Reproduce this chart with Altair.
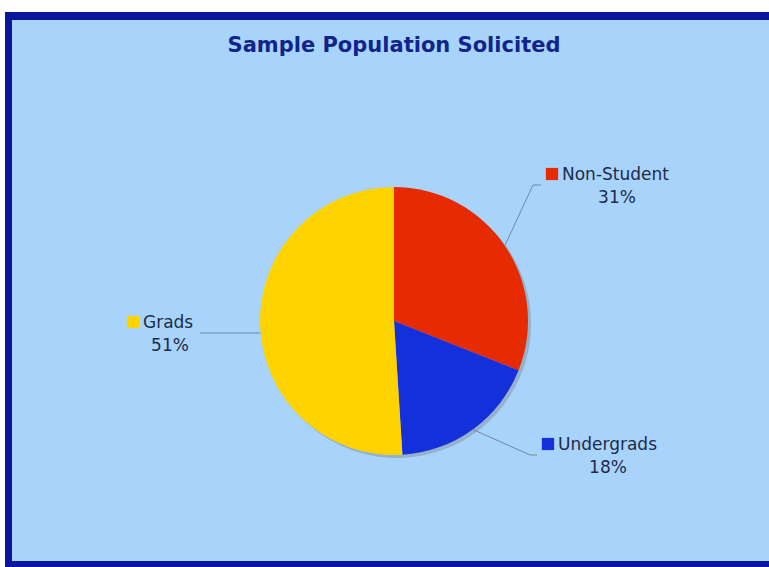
import math
import altair as alt
import pandas as pd

# Survey breakdown
categories = ["Non-Student", "Undergrads", "Grads"]
shares = [31, 18, 51]
slice_colors = ["#e62a02", "#1330da", "#fed300"]

W, H = 769, 567
CX, CY, R = 394, 321, 134

BG = "#a8d4fc"
FRAME = "#0a179c"
TITLE_COLOR = "#10248c"
TEXT_COLOR = "#1d2b48"
LEADER = "#6f89a6"

# Label layout: where each leader line ends, and which side the label sits on.
# A leader with no elbow runs flat at its end height and starts where it meets the rim.
label_anchor = {
    "Non-Student": {"elbow": (533, 185), "end": (541, 185), "side": "right"},
    "Undergrads": {"elbow": (530, 455), "end": (537, 455), "side": "right"},
    "Grads": {"elbow": None, "end": (200, 333), "side": "left"},
}

pie_df = pd.DataFrame({"category": categories, "share": shares, "rank": range(len(categories))})

total = sum(shares)
line_rows, label_rows = [], []
cum = 0
for cat, v in zip(categories, shares):
    mid = (cum + v / 2) / total * 2 * math.pi
    cum += v
    lay = label_anchor[cat]
    ex, ey = lay["end"]
    if lay["elbow"] is not None:
        # start on the rim at the slice's middle angle
        sx, sy = CX + R * math.sin(mid), CY - R * math.cos(mid)
        pts = [(sx, sy), lay["elbow"], (ex, ey)]
    else:
        side = 1 if math.sin(mid) >= 0 else -1
        sx = CX + side * math.sqrt(max(R * R - (ey - CY) ** 2, 0))
        pts = [(sx, ey), (ex, ey)]
    for i, (px, py) in enumerate(pts):
        line_rows.append({"category": cat, "i": i, "px": px, "py": py})
    if lay["side"] == "right":
        sq_x, sq_y = ex + 11, ey - 11
        name_x = sq_x + 10
        pct_x = name_x + (55 if cat == "Non-Student" else 50)
    else:
        sq_x, sq_y = ex - 67, ey - 11
        name_x = sq_x + 10
        pct_x = sq_x + 37
    label_rows.append({
        "category": cat, "pct": f"{v}%",
        "sq_x": sq_x, "sq_y": sq_y,
        "name_x": name_x, "name_y": sq_y + 1,
        "pct_x": pct_x, "pct_y": sq_y + 24,
    })

lines_df = pd.DataFrame(line_rows)
labels_df = pd.DataFrame(label_rows)
one = pd.DataFrame({"k": [0]})

color_scale = alt.Scale(domain=categories, range=slice_colors)

# Frame: dark outer band with light-blue panel inside
outer = alt.Chart(one).mark_rect(color=FRAME).encode(
    x=alt.value(5), x2=alt.value(W + 10), y=alt.value(12), y2=alt.value(H + 10)
)
inner = alt.Chart(one).mark_rect(color=BG).encode(
    x=alt.value(12), x2=alt.value(W + 10), y=alt.value(20), y2=alt.value(H - 6)
)

title = alt.Chart(one).mark_text(
    text="Sample Population Solicited", font="DejaVu Sans", fontWeight="bold",
    fontSize=21, color=TITLE_COLOR, align="center", baseline="middle",
).encode(x=alt.value(394), y=alt.value(46))

shadow = alt.Chart(pie_df).mark_arc(outerRadius=R, color="#8899ad", opacity=0.6).encode(
    theta=alt.Theta("share:Q", stack=True),
    order=alt.Order("rank:Q"),
    x=alt.value(CX + 3), y=alt.value(CY + 3),
)

pie = alt.Chart(pie_df).mark_arc(outerRadius=R).encode(
    theta=alt.Theta("share:Q", stack=True),
    order=alt.Order("rank:Q"),
    color=alt.Color("category:N", scale=color_scale, legend=None),
    x=alt.value(CX), y=alt.value(CY),
)

leaders = alt.Chart(lines_df).mark_line(color=LEADER, strokeWidth=1).encode(
    x=alt.X("px:Q", scale=None),
    y=alt.Y("py:Q", scale=None),
    detail="category:N",
    order="i:Q",
)

swatches = alt.Chart(labels_df).mark_square(size=150, opacity=1).encode(
    x=alt.X("sq_x:Q", scale=None),
    y=alt.Y("sq_y:Q", scale=None),
    color=alt.Color("category:N", scale=color_scale, legend=None),
)

names = alt.Chart(labels_df).mark_text(
    font="DejaVu Sans", fontSize=17, color=TEXT_COLOR, align="left", baseline="middle"
).encode(
    x=alt.X("name_x:Q", scale=None),
    y=alt.Y("name_y:Q", scale=None),
    text="category:N",
)

pcts = alt.Chart(labels_df).mark_text(
    font="DejaVu Sans", fontSize=17, color=TEXT_COLOR, align="center", baseline="middle"
).encode(
    x=alt.X("pct_x:Q", scale=None),
    y=alt.Y("pct_y:Q", scale=None),
    text="pct:N",
)

chart = alt.layer(
    outer, inner, title, shadow, pie, leaders, swatches, names, pcts
).properties(
    width=W, height=H, autosize=alt.AutoSizeParams(type="none"), padding=0,
    background="white",
).configure_view(stroke=None)

chart.save("out.html", embed_options={"renderer": "svg", "actions": False})
